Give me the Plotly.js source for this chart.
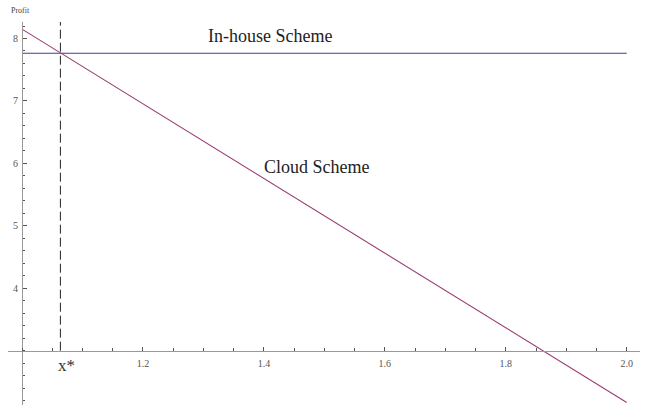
<!DOCTYPE html>
<html>
<head>
<meta charset="utf-8">
<script src="https://cdn.plot.ly/plotly-3.0.1.min.js"></script>
<style>
  html, body { margin: 0; padding: 0; background: #fff; }
  #chart { width: 646px; height: 412px; }
</style>
</head>
<body>
<div id="chart"></div>
<script>
// Profit of the two deployment schemes against the cost factor x
const inHouseX = [1.0, 2.0];
const inHouseProfit = [7.763, 7.763];

const cloudX = [1.0, 2.0];
const cloudProfit = [8.15, 2.17];

// break-even point x* where both schemes give the same profit
const xStar = [1.0635, 1.0635];
const xStarProfit = [3.0, 8.264];

const xTickVals = [1.2, 1.4, 1.6, 1.8, 2.0];
const xTickText = ['1.2', '1.4', '1.6', '1.8', '2.0'];
const yTickVals = [4, 5, 6, 7, 8];
const yTickText = ['4', '5', '6', '7', '8'];

const xRange = [0.97685, 2.02195];
const yRange = [2.130, 8.264];

const serif = '"Liberation Serif", "Times New Roman", serif';

const traces = [
  {
    x: inHouseX, y: inHouseProfit, mode: 'lines', type: 'scatter',
    line: { color: '#3d3d99', width: 1.1 }, hoverinfo: 'skip'
  },
  {
    x: cloudX, y: cloudProfit, mode: 'lines', type: 'scatter',
    line: { color: '#993d71', width: 1.1 }, hoverinfo: 'skip'
  },
  {
    x: xStar, y: xStarProfit, mode: 'lines', type: 'scatter',
    line: { color: '#222', width: 1, dash: '9px,4px' }, hoverinfo: 'skip'
  }
];

const xAxisPos = (3 - yRange[0]) / (yRange[1] - yRange[0]);
const yAxisPos = (1 - xRange[0]) / (xRange[1] - xRange[0]);

const plotW = 646 - 8 - 6;
const plotH = 412 - 22 - 7;

const layout = {
  width: 646, height: 412,
  margin: { l: 8, r: 6, t: 22, b: 7 },
  paper_bgcolor: '#fff', plot_bgcolor: '#fff',
  showlegend: false,
  font: { family: serif, color: '#444', size: 9 },
  xaxis: {
    range: xRange, anchor: 'free', position: xAxisPos,
    showgrid: false, zeroline: false,
    showline: true, linecolor: '#999', linewidth: 1,
    tickmode: 'array', tickvals: xTickVals, ticktext: xTickText,
    ticks: 'inside', ticklen: 4, tickcolor: '#555', tickwidth: 1,
    tickfont: { family: serif, size: 10, color: '#555' },
    ticklabelstandoff: 3,
    minor: { ticks: 'inside', dtick: 0.05, tick0: 1, ticklen: 2.5, tickcolor: '#555', showgrid: false }
  },
  yaxis: {
    range: yRange, anchor: 'free', position: yAxisPos,
    showgrid: false, zeroline: false,
    showline: true, linecolor: '#999', linewidth: 1,
    tickmode: 'array', tickvals: yTickVals, ticktext: yTickText,
    ticks: 'inside', ticklen: 4, tickcolor: '#555', tickwidth: 1,
    tickfont: { family: serif, size: 10, color: '#555' },
    ticklabelstandoff: 2,
    minor: { ticks: 'inside', dtick: 0.2, tick0: 0, ticklen: 2.5, tickcolor: '#555', showgrid: false }
  },
  annotations: [
    { x: 1.410, y: 8.045, xref: 'x', yref: 'y', text: 'In-house Scheme', showarrow: false,
      font: { family: serif, size: 18, color: '#222' } },
    { x: 1.487, y: 5.947, xref: 'x', yref: 'y', text: 'Cloud Scheme', showarrow: false,
      font: { family: serif, size: 18, color: '#222' } },
    { x: 1.0744, y: 2.76, xref: 'x', yref: 'y', text: 'x*', showarrow: false,
      font: { family: serif, size: 17, color: '#333' } },
    { x: (9 - 8) / plotW, y: (412 - 7 - 10) / plotH, xref: 'paper', yref: 'paper',
      xanchor: 'left', yanchor: 'middle', text: 'Profit', showarrow: false,
      font: { family: serif, size: 8, color: '#444' } }
  ]
};

Plotly.newPlot('chart', traces, layout, { staticPlot: true, displayModeBar: false });
</script>
</body>
</html>
